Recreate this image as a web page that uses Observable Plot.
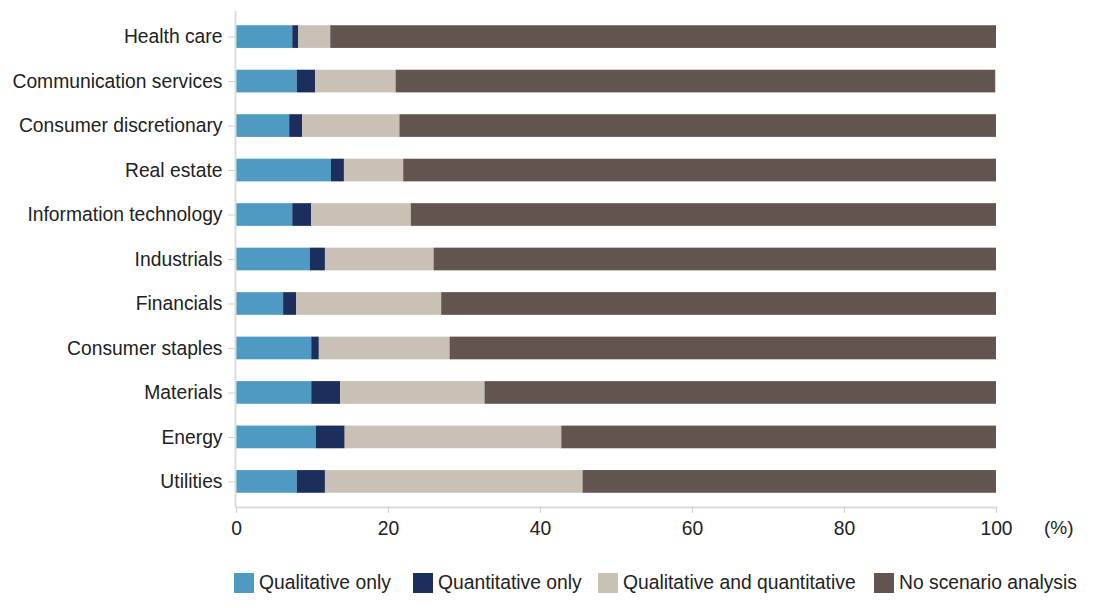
<!DOCTYPE html>
<html>
<head>
<meta charset="utf-8">
<script src="https://cdn.jsdelivr.net/npm/d3@7"></script>
<script src="https://cdn.jsdelivr.net/npm/@observablehq/plot@0.6"></script>
<style>
  html, body { margin: 0; padding: 0; background: #fff; }
  #wrap { position: relative; width: 1111px; height: 608px; font-family: "Liberation Sans", Arial, sans-serif; color: #222; }
  #pct { position: absolute; left: 1044px; top: 517px; font-size: 19px; }
  #legend { position: absolute; left: 0; top: 572px; width: 1111px; height: 24px; font-size: 19.3px; }
  .item { position: absolute; top: 0; display: flex; align-items: center; white-space: nowrap; }
  .sw { width: 20px; height: 20px; margin-right: 5px; }
</style>
</head>
<body>
<div id="wrap">
  <div id="chart"></div>
  <div id="pct">(%)</div>
  <div id="legend"></div>
</div>
<script>
const categories = ["Health care", "Communication services", "Consumer discretionary", "Real estate",
  "Information technology", "Industrials", "Financials", "Consumer staples", "Materials", "Energy", "Utilities"];
const qualitativeOnly  = [7.4, 8.0, 7.0, 12.5, 7.4, 9.7, 6.2, 9.9, 9.9, 10.5, 8.0];
const quantitativeOnly = [0.8, 2.4, 1.7, 1.7, 2.5, 2.0, 1.7, 1.0, 3.8, 3.8, 3.7];
const qualAndQuant     = [4.2, 10.6, 12.8, 7.8, 13.1, 14.3, 19.1, 17.2, 19.0, 28.5, 33.9];
const noScenario       = [87.6, 78.9, 78.5, 78.0, 77.0, 74.0, 73.0, 71.9, 67.3, 57.2, 54.4];
const seriesNames = ["Qualitative only", "Quantitative only", "Qualitative and quantitative", "No scenario analysis"];
const seriesColors = ["#4e9ac3", "#1c2e5c", "#cac1b6", "#625550"];
const xTicks = [0, 20, 40, 60, 80, 100];
const legendLefts = [234, 413, 598, 874];

const seriesValues = [qualitativeOnly, quantitativeOnly, qualAndQuant, noScenario];
const data = [];
categories.forEach((c, i) => {
  seriesNames.forEach((s, j) => data.push({category: c, series: s, value: seriesValues[j][i]}));
});

const chart = Plot.plot({
  width: 1111,
  height: 550,
  marginLeft: 236,
  marginRight: 115,
  marginTop: 11,
  marginBottom: 43,
  style: {fontFamily: "'Liberation Sans', Arial, sans-serif", fontSize: "19.3px", color: "#222", background: "#fff"},
  x: {domain: [0, 100], ticks: xTicks, label: null},
  y: {domain: categories, paddingInner: 0.49, paddingOuter: 0.32, round: false, label: null},
  color: {domain: seriesNames, range: seriesColors},
  marks: [
    Plot.barX(data, Plot.stackX({y: "category", x: "value", fill: "series", z: "series", order: seriesNames})),
    Plot.ruleX([0], {stroke: "#dcdcdc", strokeWidth: 2, dx: -1}),
    Plot.frame({anchor: "bottom", stroke: "#dcdcdc", strokeWidth: 2}),
    Plot.axisY({tickSize: 7, stroke: "#cfcfcf", fill: "#222", tickPadding: 6, label: null, dx: -1}),
    Plot.axisX({ticks: xTicks, tickSize: 6, stroke: "#cfcfcf", fill: "#222", tickPadding: 8, label: null})
  ]
});
document.getElementById("chart").appendChild(chart);

const legend = document.getElementById("legend");
seriesNames.forEach((s, i) => {
  const item = document.createElement("div");
  item.className = "item";
  item.style.left = legendLefts[i] + "px";
  const sw = document.createElement("div");
  sw.className = "sw";
  sw.style.background = seriesColors[i];
  const t = document.createElement("span");
  t.textContent = s;
  item.appendChild(sw);
  item.appendChild(t);
  legend.appendChild(item);
});
</script>
</body>
</html>
